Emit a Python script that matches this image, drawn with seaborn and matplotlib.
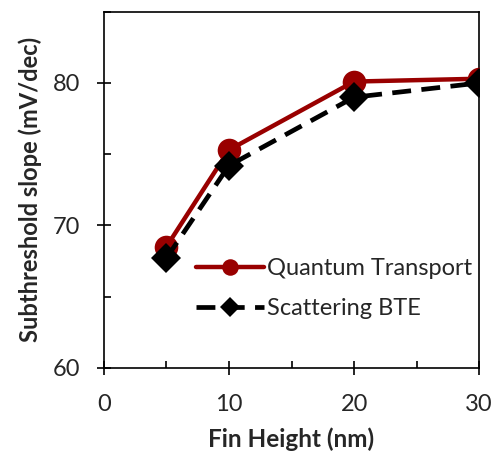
import matplotlib
matplotlib.use("Agg")
import matplotlib.pyplot as plt
from matplotlib.ticker import MultipleLocator
import seaborn as sns
import pandas as pd

fin_height = [5, 10, 20, 30]
quantum_transport = [68.5, 75.3, 80.1, 80.3]
scattering_bte = [67.7, 74.2, 79.0, 80.0]

sns.set_style("ticks")
plt.rcParams["font.family"] = ["Lato", "DejaVu Sans"]

fig = plt.figure(figsize=(4.92, 4.53), dpi=100)
ax = fig.add_axes([0.211, 0.188, 0.763, 0.786])

df_q = pd.DataFrame({"h": fin_height, "ss": quantum_transport})
df_s = pd.DataFrame({"h": fin_height, "ss": scattering_bte})

sns.lineplot(data=df_q, x="h", y="ss", ax=ax, color="#990000", linewidth=3.2,
             marker="o", markersize=17, markeredgewidth=0,
             label="Quantum Transport", zorder=3)
sns.lineplot(data=df_s, x="h", y="ss", ax=ax, color="black", linewidth=3.4,
             linestyle=(0, (4, 2.2)), marker="D", markersize=15,
             markeredgewidth=0, label="Scattering BTE", zorder=4)

ax.set_xlim(0, 30)
ax.set_ylim(60, 85)
ax.xaxis.set_major_locator(MultipleLocator(10))
ax.xaxis.set_minor_locator(MultipleLocator(5))
ax.yaxis.set_major_locator(MultipleLocator(10))
ax.yaxis.set_minor_locator(MultipleLocator(5))
ax.tick_params(which="major", direction="inout", length=10, width=1.2,
               labelsize=17, color="black")
ax.tick_params(axis="y", which="major", pad=12)
ax.tick_params(axis="x", which="major", pad=14)
ax.tick_params(which="minor", direction="in", length=5, width=1.2, color="black")
for s in ax.spines.values():
    s.set_linewidth(1.2)
    s.set_color("black")
    s.set_visible(True)

ax.set_xlabel("Fin Height (nm)", fontsize=17.5, fontweight="bold", labelpad=9)
ax.set_ylabel("Subthreshold slope (mV/dec)", fontsize=17, fontweight="bold", labelpad=8)

ax.legend(loc="upper left", bbox_to_anchor=(0.22, 0.335), frameon=False,
          fontsize=17, markerscale=0.7, handlelength=2.9, handletextpad=0.1,
          labelspacing=0.8, borderaxespad=0)

fig.savefig("out.png", dpi=100)
